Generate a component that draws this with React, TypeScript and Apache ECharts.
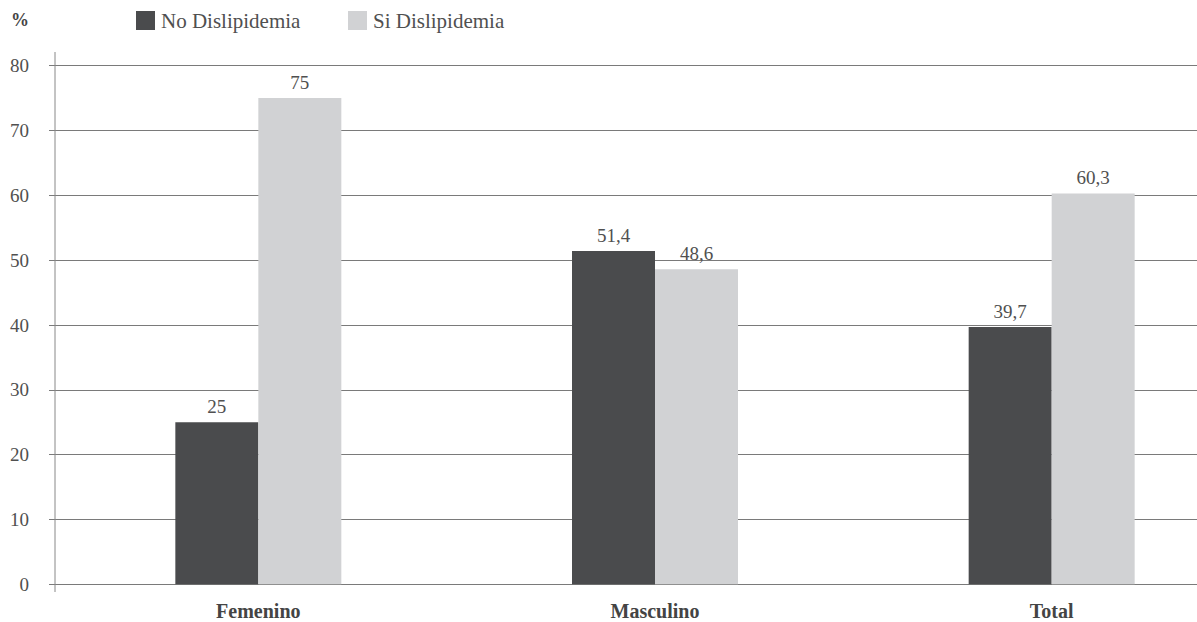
import React, { useEffect, useRef } from "react";
import * as echarts from "echarts";

const categories = ["Femenino", "Masculino", "Total"];
const noDislipidemia = [25, 51.4, 39.7];
const siDislipidemia = [75, 48.6, 60.3];
const seriesNames = ["No Dislipidemia", "Si Dislipidemia"];
const yTicks = { min: 0, max: 80, interval: 10 };

const FONT = "Liberation Serif";
const DARK = "#4a4b4d";
const LIGHT = "#d1d2d4";
const GRID_LINE = "#7a7a7a";
const TEXT = "#505050";

const fmt = (v: number) => String(v).replace(".", ",");

export default function App() {
  const ref = useRef<HTMLDivElement>(null);

  useEffect(() => {
    if (!ref.current) return;
    const chart = echarts.init(ref.current, undefined, { renderer: "svg" });

    const labelStyle = {
      show: true,
      position: "top" as const,
      distance: 6,
      fontFamily: FONT,
      fontSize: 19,
      color: TEXT,
      formatter: (p: any) => fmt(p.value),
    };

    const legendText = { fontFamily: FONT, fontSize: 21, color: TEXT, padding: [0, 0, 0, 1] };

    chart.setOption({
      animation: false,
      backgroundColor: "#ffffff",
      textStyle: { fontFamily: FONT },
      // plot area runs past the right edge, so the third category band is cut off
      grid: {
        left: 60,
        top: 65.7,
        width: 1190,
        bottom: 37.7,
        outerBoundsMode: "none",
        containLabel: false,
      },
      legend: [
        {
          data: [seriesNames[0]],
          left: 131,
          top: 5,
          itemWidth: 19,
          itemHeight: 19,
          icon: "rect",
          textStyle: legendText,
        },
        {
          data: [seriesNames[1]],
          left: 343,
          top: 5,
          itemWidth: 19,
          itemHeight: 19,
          icon: "rect",
          textStyle: legendText,
        },
      ],
      xAxis: {
        type: "category",
        data: categories,
        axisLine: { show: true, lineStyle: { color: GRID_LINE, width: 1 } },
        axisTick: { show: false },
        axisLabel: {
          fontFamily: FONT,
          fontSize: 20,
          lineHeight: 20,
          fontWeight: "bold",
          color: "#444444",
          margin: 17,
        },
      },
      yAxis: {
        type: "value",
        min: yTicks.min,
        max: yTicks.max,
        interval: yTicks.interval,
        axisLine: { show: false },
        axisTick: { show: true, length: 11, lineStyle: { color: GRID_LINE, width: 1 } },
        axisLabel: {
          fontFamily: FONT,
          fontSize: 19,
          color: TEXT,
          margin: 31,
          padding: [0, 0, 8, 0],
        },
        splitLine: { show: true, lineStyle: { color: GRID_LINE, width: 1 } },
      },
      graphic: [
        {
          type: "line",
          shape: { x1: 55, y1: 52, x2: 55, y2: 592 },
          style: { stroke: "#888888", lineWidth: 1 },
          z: 10,
        },
        {
          type: "text",
          left: 11,
          top: 11,
          style: {
            text: "%",
            fontFamily: FONT,
            fontSize: 18,
            fontWeight: "bold",
            fill: "#444444",
          },
        },
      ],
      series: [
        {
          name: seriesNames[0],
          type: "bar",
          data: noDislipidemia,
          barWidth: 83,
          barGap: "0%",
          itemStyle: { color: DARK },
          label: labelStyle,
        },
        {
          name: seriesNames[1],
          type: "bar",
          data: siDislipidemia,
          barWidth: 83,
          barGap: "0%",
          itemStyle: { color: LIGHT },
          label: labelStyle,
        },
      ],
    });

    return () => chart.dispose();
  }, []);

  return (
    <div
      ref={ref}
      style={{ position: "fixed", left: 0, top: 0, width: 1197, height: 622, background: "#fff" }}
    />
  );
}
